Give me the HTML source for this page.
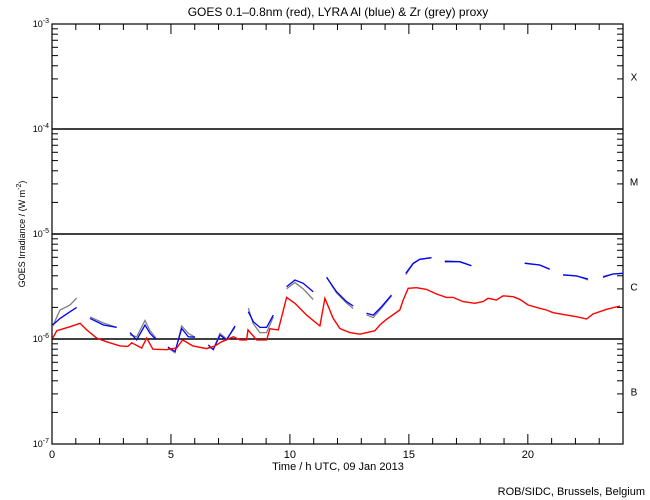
<!DOCTYPE html>
<html><head><meta charset="utf-8">
<style>
body{margin:0;background:#fff;}
svg{display:block;font-family:"Liberation Sans",sans-serif;}
</style></head>
<body>
<svg id="chart" width="650" height="500" viewBox="0 0 650 500" xmlns="http://www.w3.org/2000/svg">
<rect width="650" height="500" fill="#fff"/>
<text x="338" y="16" font-size="12" text-anchor="middle">GOES 0.1–0.8nm (red), LYRA Al (blue) &amp; Zr (grey) proxy</text>
<text x="338" y="470" font-size="11" text-anchor="middle">Time / h UTC, 09 Jan 2013</text>
<text transform="translate(25,234) rotate(-90)" font-size="9" text-anchor="middle">GOES Irradiance / (W m<tspan font-size="7" dy="-4">-2</tspan><tspan dy="4">)</tspan></text>
<text x="645" y="495" font-size="11" text-anchor="end">ROB/SIDC, Brussels, Belgium</text>
<g id="axes"></g>
<g id="series"></g>
</svg>
<script>
// data: time in hours, flux in units of 1e-6 W/m^2
const redT = [0.03,0.2,0.76,1.18,1.46,1.88,2.30,2.86,3.19,3.35,3.77,3.98,4.24,4.82,5.24,5.49,5.92,6.50,6.85,7.13,7.62,7.90,8.18,8.24,8.60,9.02,9.16,9.51,9.86,10.21,10.70,11.26,11.47,11.82,12.10,12.52,12.94,13.57,13.78,14.06,14.62,14.76,14.97,15.32,15.74,16.16,16.58,16.86,17.28,17.77,18.12,18.33,18.68,18.96,19.38,19.66,20.01,20.50,20.78,21.06,21.63,22.05,22.47,22.74,23.31,23.87];
const redV = [1.02,1.20,1.31,1.41,1.22,1.02,0.94,0.86,0.85,0.92,0.82,1.02,0.80,0.79,0.82,0.98,0.86,0.81,0.86,0.94,1.05,0.98,0.98,1.22,0.98,0.98,1.25,1.22,2.49,2.19,1.69,1.33,2.44,1.57,1.26,1.15,1.11,1.20,1.36,1.54,1.89,2.35,3.04,3.08,2.97,2.68,2.49,2.49,2.27,2.19,2.27,2.44,2.35,2.58,2.53,2.39,2.11,1.96,1.89,1.78,1.69,1.63,1.55,1.73,1.92,2.06];
const lyraT = [0.03,0.34,0.76,1.04,null,1.60,2.16,2.72,null,3.28,3.56,3.91,4.12,4.37,null,4.87,5.17,5.45,5.73,6.01,null,6.57,6.78,7.06,7.34,7.69,null,8.25,8.46,8.74,9.02,9.30,null,9.86,10.21,10.56,10.98,null,11.54,11.96,12.38,12.66,null,13.22,13.50,13.85,14.27,null,14.87,15.18,15.46,15.95,null,16.51,17.14,17.63,null,19.87,20.50,20.92,null,21.48,22.05,22.53,null,23.16,23.58,24.0];
const blueV = [1.36,1.57,1.82,2.0,null,1.57,1.36,1.29,null,1.15,0.98,1.36,1.13,0.99,null,0.84,0.76,1.26,1.05,1.04,null,0.88,0.79,1.09,0.98,1.33,null,1.82,1.46,1.29,1.29,1.69,null,3.15,3.65,3.39,2.82,null,3.87,2.82,2.27,2.06,null,1.76,1.69,2.03,2.62,null,4.22,5.26,5.74,5.95,null,5.45,5.45,4.99,null,5.26,5.07,4.61,null,4.07,3.98,3.73,null,3.87,4.16,4.22];
const greyV = [1.33,1.89,2.11,2.46,null,1.62,1.42,1.29,null,1.10,1.05,1.50,1.20,1.02,null,0.82,0.74,1.33,1.13,1.04,null,0.84,0.80,1.13,1.00,1.29,null,1.97,1.40,1.15,1.15,1.62,null,3.00,3.45,3.00,2.38,null,3.87,2.75,2.20,1.95,null,1.70,1.60,1.97,2.58,null,4.10,5.20,5.74,5.95,null,5.55,5.45,5.00,null,5.30,5.07,4.65,null,4.10,4.00,3.65,null,3.95,4.16,4.22];
const xTicks = [0,5,10,15,20];
const yDecades = [-7,-6,-5,-4,-3];
const classNames = ['B','C','M','X'];

const NS='http://www.w3.org/2000/svg';
const L=52,R=623,T=24,B=444;
const xs=t=>L+(t/24)*(R-L);
const ys=v=>B-(Math.log10(v*1e-6)+7)*(B-T)/4;
const ysLog=l=>B-(l+7)*(B-T)/4;
function mk(tag,attrs,parent){const e=document.createElementNS(NS,tag);for(const k in attrs)e.setAttribute(k,attrs[k]);parent.appendChild(e);return e;}
const ax=document.getElementById('axes');
const frame=mk('rect',{x:L,y:T,width:R-L,height:B-T,fill:'none',stroke:'#000','stroke-width':1.2},ax);


for(let h=0;h<=24;h++){
  const len=(h%5===0)?10:6;
  const x=xs(h);
  const tb=mk('line',{x1:x,x2:x,y1:B,y2:B-len,stroke:'#000'},ax);
  
  
  const tt=mk('line',{x1:x,x2:x,y1:T,y2:T+len,stroke:'#000'},ax);
  
  
}
xTicks.forEach(h=>{
  const t=mk('text',{x:xs(h),y:458,'font-size':11,'text-anchor':'middle'},ax);
  t.textContent=h;
  
  
});
yDecades.forEach((d,i)=>{
  const y=ysLog(d);
  const lab=mk('text',{x:L-3,y:y+3,'font-size':9,'text-anchor':'end'},ax);
  lab.innerHTML='10<tspan font-size="7" dy="-4">'+d+'</tspan>';
  
  
  if(d>-7&&d<-3){
    const g=mk('line',{x1:L,x2:R,y1:y,y2:y,stroke:'#000','stroke-width':1.5},ax);
    
    
  }
  if(i<yDecades.length-1){
    for(let m=2;m<=9;m++){
      const yy=ysLog(d+Math.log10(m));
      const a=mk('line',{x1:L,x2:L+6,y1:yy,y2:yy,stroke:'#000'},ax);
      
      
      const b=mk('line',{x1:R,x2:R-6,y1:yy,y2:yy,stroke:'#000'},ax);
      
      
    }
    const c=mk('text',{x:634,y:ysLog(d+0.5)+4,'font-size':10,'text-anchor':'middle'},ax);
    c.textContent=classNames[i];
    
    
  }
});
const sg=document.getElementById('series');
function draw(ts,vs,color,w,name){
  let seg=[];
  const segs=[];
  for(let i=0;i<ts.length;i++){
    if(ts[i]===null||vs[i]===null){if(seg.length)segs.push(seg);seg=[];continue;}
    seg.push(xs(ts[i]).toFixed(1)+','+ys(vs[i]).toFixed(1));
  }
  if(seg.length)segs.push(seg);
  segs.forEach(s=>{
    const p=mk('polyline',{points:s.join(' '),fill:'none',stroke:color,'stroke-width':w},sg);
    
    
  });
}
draw(lyraT,greyV,'#808080',1.3,'grey-zr-series');
draw(lyraT,blueV,'#0000ff',1.3,'blue-al-series');
draw(redT,redV,'#ff0000',1.4,'red-goes-series');
</script>
</body></html>
